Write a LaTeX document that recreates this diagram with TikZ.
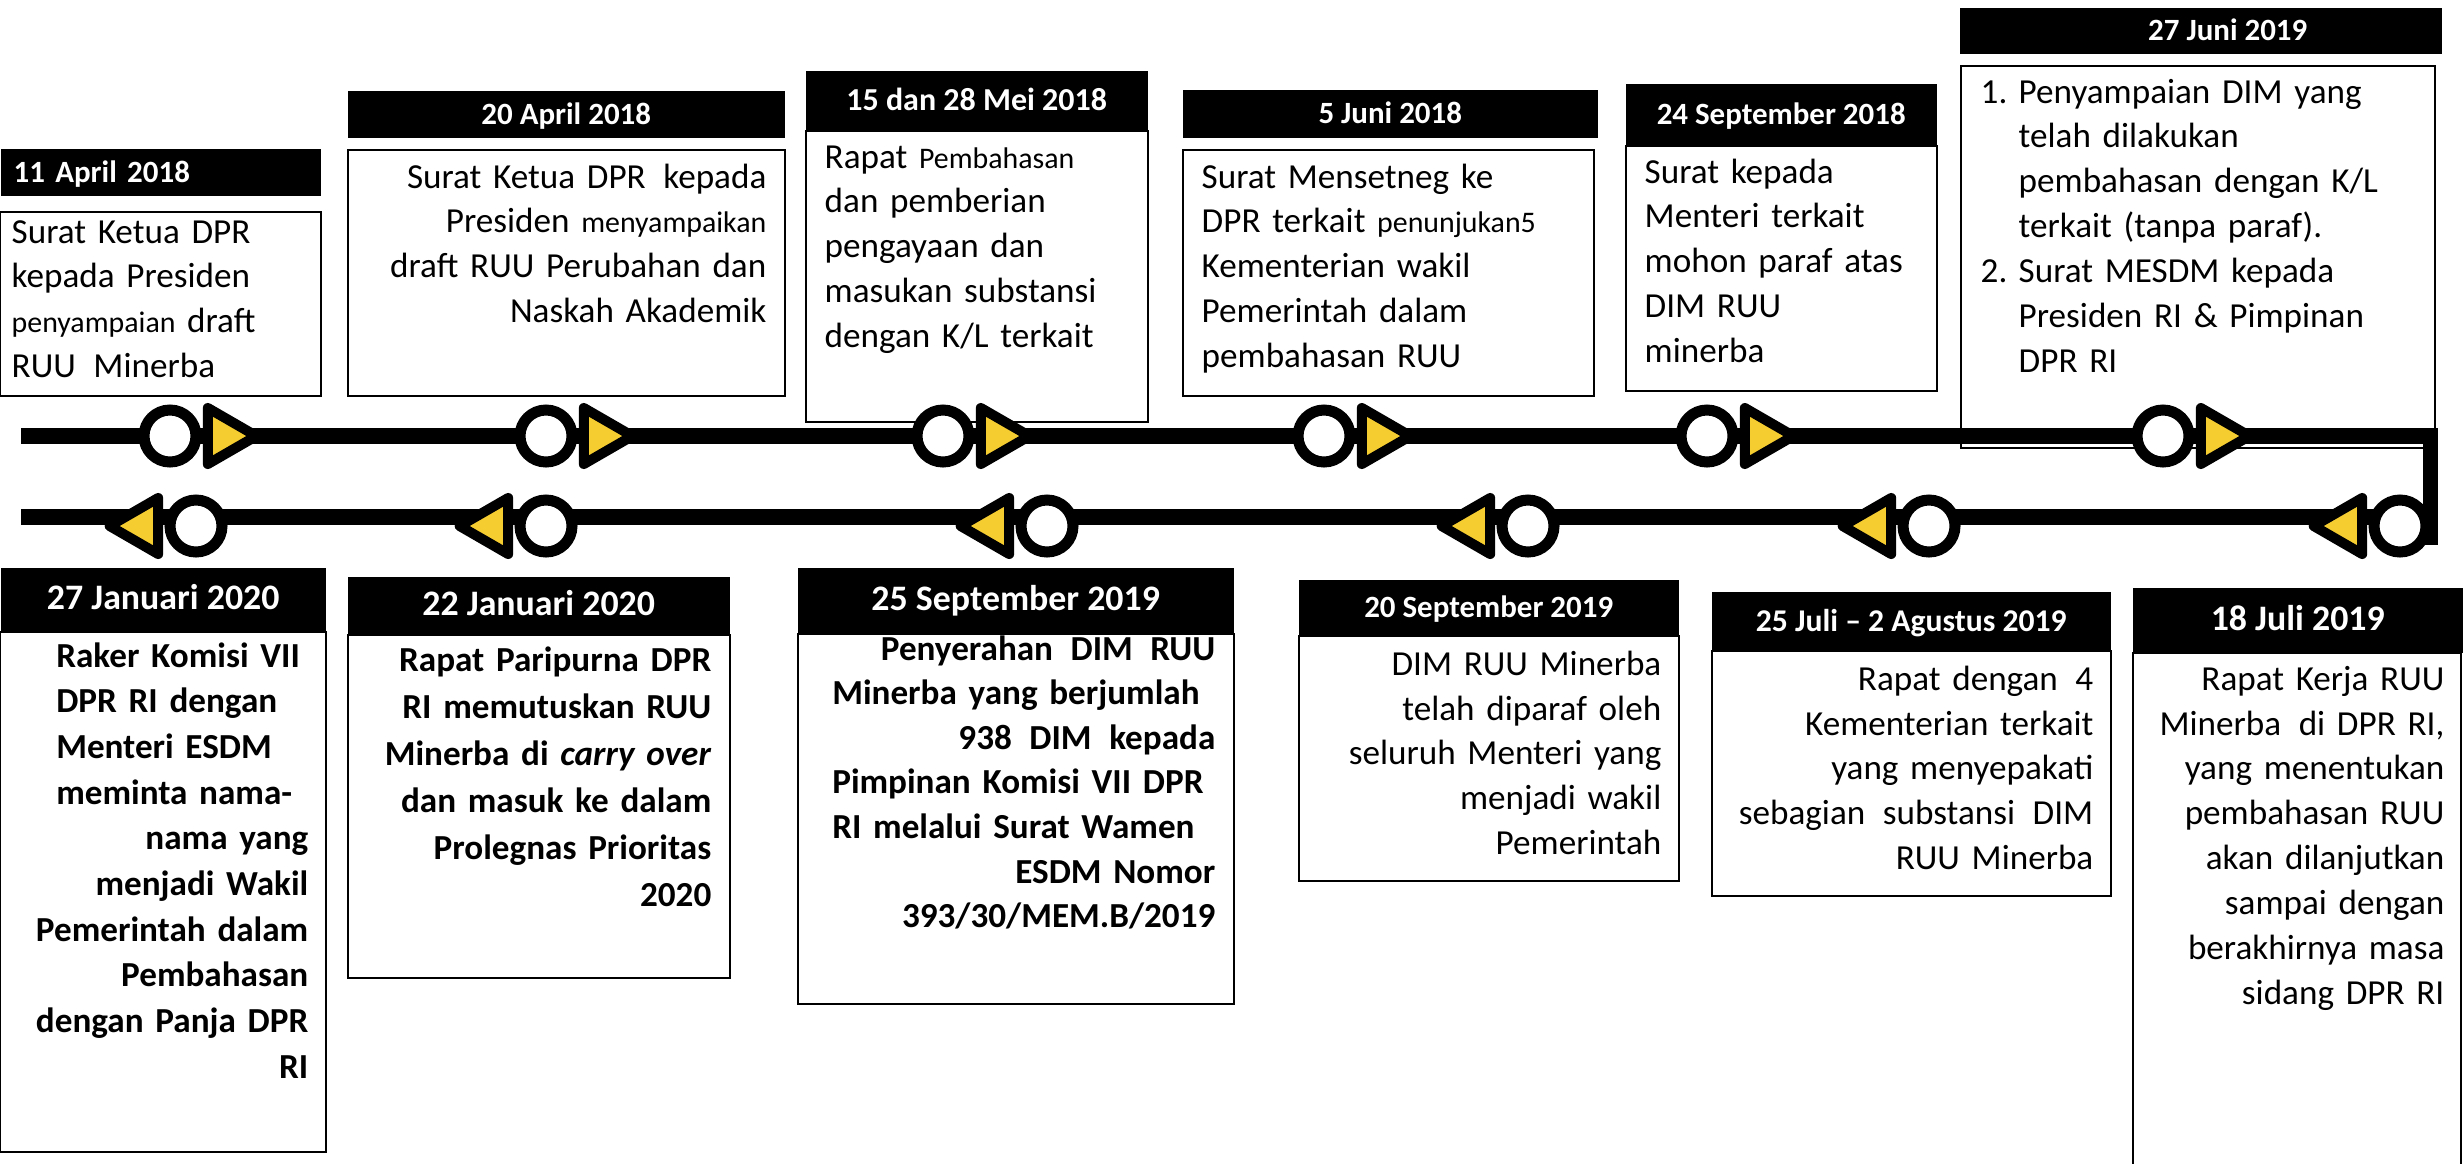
\documentclass[tikz,border=0pt]{standalone}
\usepackage{fontspec}
\setmainfont{Carlito}
\usetikzlibrary{shapes.geometric}
\definecolor{markgold}{RGB}{246,205,49}
\newcommand{\sm}[1]{{\fontsize{8.5}{10}\selectfont #1}}
\newcommand{\spread}[2]{\makebox[#1][s]{#2}}
\tikzset{
    head/.style={fill=black, text=white, inner sep=0cm, anchor=north west, text height=1.5ex, text depth=0.3ex, font=\bfseries\fontsize{8.8}{10}\selectfont},
    bighead/.style={head, font=\bfseries\fontsize{10.2}{12}\selectfont},
    card/.style={draw, line width=0.015cm, fill=white, inner sep=0cm, anchor=north west},
    body/.style={inner sep=0cm, font=\fontsize{10}{12.8}\selectfont},
    boldbody/.style={inner sep=0cm, font=\bfseries\fontsize{10}{13}\selectfont},
    dot/.style={draw, circle, line width=0.11cm, fill=white, minimum size=0.52cm, inner sep=0cm},
    tri/.style={draw, regular polygon, regular polygon sides=3, fill=markgold, line width=0.10cm, line join=round, minimum size=0.647cm, inner sep=0cm},
    fwd/.style={tri, rotate=-90},
    bwd/.style={tri, rotate=90},
    rail/.style={line width=0.16cm},
}
\begin{document}
\begin{tikzpicture}
    \useasboundingbox (0cm,0cm) rectangle (24.63cm,-11.63cm);
    \node[card, minimum width=3.20cm, minimum height=1.84cm] (c1) at (0cm,-2.11cm) {};
    \node[card, minimum width=4.37cm, minimum height=2.46cm] (c2) at (3.47cm,-1.49cm) {};
    \node[card, minimum width=3.42cm, minimum height=2.91cm] (c3) at (8.05cm,-1.30cm) {};
    \node[card, minimum width=4.11cm, minimum height=2.46cm] (c4) at (11.82cm,-1.49cm) {};
    \node[card, minimum width=3.11cm, minimum height=2.45cm] (c5) at (16.25cm,-1.45cm) {};
    \node[card, minimum width=4.74cm, minimum height=3.82cm] (c6) at (19.60cm,-0.65cm) {};
    \node[card, minimum width=3.25cm, minimum height=5.20cm] (c7) at (0cm,-6.31cm) {};
    \node[card, minimum width=3.82cm, minimum height=3.43cm] (c8) at (3.47cm,-6.34cm) {};
    \node[card, minimum width=4.36cm, minimum height=3.70cm] (c9) at (7.97cm,-6.33cm) {};
    \node[card, minimum width=3.80cm, minimum height=2.45cm] (c10) at (12.98cm,-6.35cm) {};
    \node[card, minimum width=3.99cm, minimum height=2.45cm] (c11) at (17.11cm,-6.50cm) {};
    \node[card, minimum width=3.28cm, minimum height=5.40cm] (c12) at (21.32cm,-6.52cm) {};

    \node[head, minimum width=3.20cm, minimum height=0.47cm, text width=2.94cm, inner xsep=0.13cm, align=left] (h1) at (0cm,-1.48cm) {11 April 2018};
    \node[head, minimum width=4.37cm, minimum height=0.47cm] (h2) at (3.47cm,-0.90cm) {20 April 2018};
    \node[head, minimum width=3.42cm, minimum height=0.60cm, font=\bfseries\fontsize{9.1}{11}\selectfont] (h3) at (8.05cm,-0.70cm) {15 dan 28 Mei 2018};
    \node[head, minimum width=4.15cm, minimum height=0.48cm] (h4) at (11.82cm,-0.89cm) {5 Juni 2018};
    \node[head, minimum width=3.11cm, minimum height=0.62cm] (h5) at (16.25cm,-0.83cm) {24 September 2018};
    \node[head, minimum width=4.82cm, minimum height=0.46cm] (h6) at (19.59cm,-0.07cm) {\hspace*{0.54cm}27 Juni 2019};
    \node[bighead, minimum width=3.25cm, minimum height=0.64cm] (h7) at (0cm,-5.67cm) {27 Januari 2020};
    \node[bighead, minimum width=3.82cm, minimum height=0.58cm] (h8) at (3.47cm,-5.76cm) {22 Januari 2020};
    \node[bighead, minimum width=4.36cm, minimum height=0.66cm] (h9) at (7.97cm,-5.67cm) {25 September 2019};
    \node[head, minimum width=3.80cm, minimum height=0.56cm] (h10) at (12.98cm,-5.79cm) {20 September 2019};
    \node[head, minimum width=3.99cm, minimum height=0.59cm, font=\bfseries\fontsize{9}{11}\selectfont] (h11) at (17.11cm,-5.91cm) {25 Juli -- 2 Agustus 2019};
    \node[bighead, minimum width=3.30cm, minimum height=0.65cm] (h12) at (21.32cm,-5.87cm) {18 Juli 2019};

    \node[body, anchor=base west, text width=2.53cm, align=left] (t1) at (0.11cm,-2.43cm) {Surat Ketua DPR\\ \spread{2.53cm}{kepada Presiden}\\ \spread{2.53cm}{\sm{penyampaian} draft}\\ RUU\enspace Minerba};
    \node[body, anchor=base east, text width=4.2cm, align=right] (t2) at (7.67cm,-1.88cm) {Surat Ketua DPR\enspace kepada\\ Presiden \sm{menyampaikan}\\ draft RUU Perubahan dan\\ Naskah Akademik};
    \node[body, anchor=base west, text width=3.2cm, align=left] (t3) at (8.24cm,-1.68cm) {Rapat \sm{Pembahasan}\\ dan pemberian\\ pengayaan dan\\ masukan substansi\\ dengan K/L terkait};
    \node[body, anchor=base west, text width=3.9cm, align=left] (t4) at (12.01cm,-1.88cm) {Surat Mensetneg ke\\ DPR terkait \sm{penunjukan5}\\ Kementerian wakil\\ Pemerintah dalam\\ pembahasan RUU};
    \node[body, anchor=base west, text width=2.9cm, align=left] (t5) at (16.44cm,-1.83cm) {Surat kepada\\ Menteri terkait\\ mohon paraf atas\\ DIM RUU\\ minerba};
    \node[body, anchor=base west, text width=4.5cm, align=left] (t6) at (19.80cm,-1.03cm) {\makebox[0.38cm][l]{1.}Penyampaian DIM yang\\ \hspace*{0.38cm}telah dilakukan\\ \hspace*{0.38cm}pembahasan dengan K/L\\ \hspace*{0.38cm}terkait (tanpa paraf).\\ \makebox[0.38cm][l]{2.}Surat MESDM kepada\\ \hspace*{0.38cm}Presiden RI \& Pimpinan\\ \hspace*{0.38cm}DPR RI};
    \node[boldbody, anchor=base east, text width=2.80cm, align=right] (t7) at (3.09cm,-6.67cm) {\spread{2.52cm}{Raker Komisi VII}\\ \spread{2.52cm}{DPR RI dengan}\\ \spread{2.52cm}{Menteri ESDM}\\ \makebox[2.52cm][l]{meminta nama-}\\ nama yang\\ menjadi Wakil\\ Pemerintah dalam\\ Pembahasan\\ dengan Panja DPR\\ RI};
    \node[boldbody, anchor=base east, text width=3.7cm, align=right, font=\bfseries\fontsize{10}{13.4}\selectfont] (t8) at (7.12cm,-6.71cm) {Rapat Paripurna DPR\\ RI memutuskan RUU\\ Minerba di \textit{carry over}\\ dan masuk ke dalam\\ Prolegnas Prioritas\\ 2020};
    \node[boldbody, anchor=base east, text width=3.83cm, align=right, font=\bfseries\fontsize{10}{12.7}\selectfont] (t9) at (12.16cm,-6.60cm) {Penyerahan\enspace DIM\enspace RUU\\ \makebox[3.83cm][l]{Minerba yang berjumlah}\\ 938\enspace DIM\enspace kepada\\ \spread{3.83cm}{Pimpinan Komisi VII DPR}\\ \makebox[3.83cm][l]{RI melalui Surat Wamen}\\ ESDM Nomor\hspace*{0.08cm}\\ 393/30/MEM.B/2019\hspace*{0.06cm}};
    \node[body, anchor=base east, text width=3.6cm, align=right] (t10) at (16.62cm,-6.75cm) {DIM RUU Minerba\\ telah diparaf oleh\\ seluruh Menteri yang\\ menjadi wakil\\ Pemerintah};
    \node[body, anchor=base east, text width=3.8cm, align=right] (t11) at (20.94cm,-6.90cm) {Rapat dengan\enspace 4\\ Kementerian terkait\\ yang menyepakati\\ sebagian\enspace substansi\enspace DIM\\ RUU Minerba\hspace*{0.12cm}};
    \node[body, anchor=base east, text width=3.2cm, align=right] (t12) at (24.45cm,-6.90cm) {Rapat Kerja RUU\\ Minerba\enspace di DPR RI,\\ yang menentukan\\ pembahasan RUU\\ akan dilanjutkan\\ sampai dengan\\ berakhirnya masa\\ sidang DPR RI};

    \coordinate (topL) at (0.21cm,-4.36cm);
    \coordinate (topR) at (24.30cm,-4.36cm);
    \coordinate (botL) at (0.21cm,-5.17cm);
    \coordinate (botR) at (24.00cm,-5.17cm);
    \coordinate (turnA) at (24.305cm,-4.28cm);
    \coordinate (turnB) at (24.305cm,-5.45cm);
    \draw[rail] (topL) -- (topR);
    \draw[rail] (botL) -- (botR);
    \draw[line width=0.15cm] (turnA) -- (turnB);

    \node[dot] (p1) at (1.70cm,-4.36cm) {};
    \node[dot] (p2) at (5.46cm,-4.36cm) {};
    \node[dot] (p3) at (9.43cm,-4.36cm) {};
    \node[dot] (p4) at (13.24cm,-4.36cm) {};
    \node[dot] (p5) at (17.07cm,-4.36cm) {};
    \node[dot] (p6) at (21.63cm,-4.36cm) {};
    \node[fwd] (f1) at (2.24cm,-4.36cm) {};
    \node[fwd] (f2) at (6.00cm,-4.36cm) {};
    \node[fwd] (f3) at (9.97cm,-4.36cm) {};
    \node[fwd] (f4) at (13.78cm,-4.36cm) {};
    \node[fwd] (f5) at (17.61cm,-4.36cm) {};
    \node[fwd] (f6) at (22.17cm,-4.36cm) {};

    \node[dot] (q1) at (1.96cm,-5.26cm) {};
    \node[dot] (q2) at (5.46cm,-5.26cm) {};
    \node[dot] (q3) at (10.47cm,-5.26cm) {};
    \node[dot] (q4) at (15.28cm,-5.26cm) {};
    \node[dot] (q5) at (19.29cm,-5.26cm) {};
    \node[dot] (q6) at (24.00cm,-5.26cm) {};
    \node[bwd] (b1) at (1.42cm,-5.26cm) {};
    \node[bwd] (b2) at (4.92cm,-5.26cm) {};
    \node[bwd] (b3) at (9.93cm,-5.26cm) {};
    \node[bwd] (b4) at (14.74cm,-5.26cm) {};
    \node[bwd] (b5) at (18.75cm,-5.26cm) {};
    \node[bwd] (b6) at (23.46cm,-5.26cm) {};
\end{tikzpicture}
\end{document}
